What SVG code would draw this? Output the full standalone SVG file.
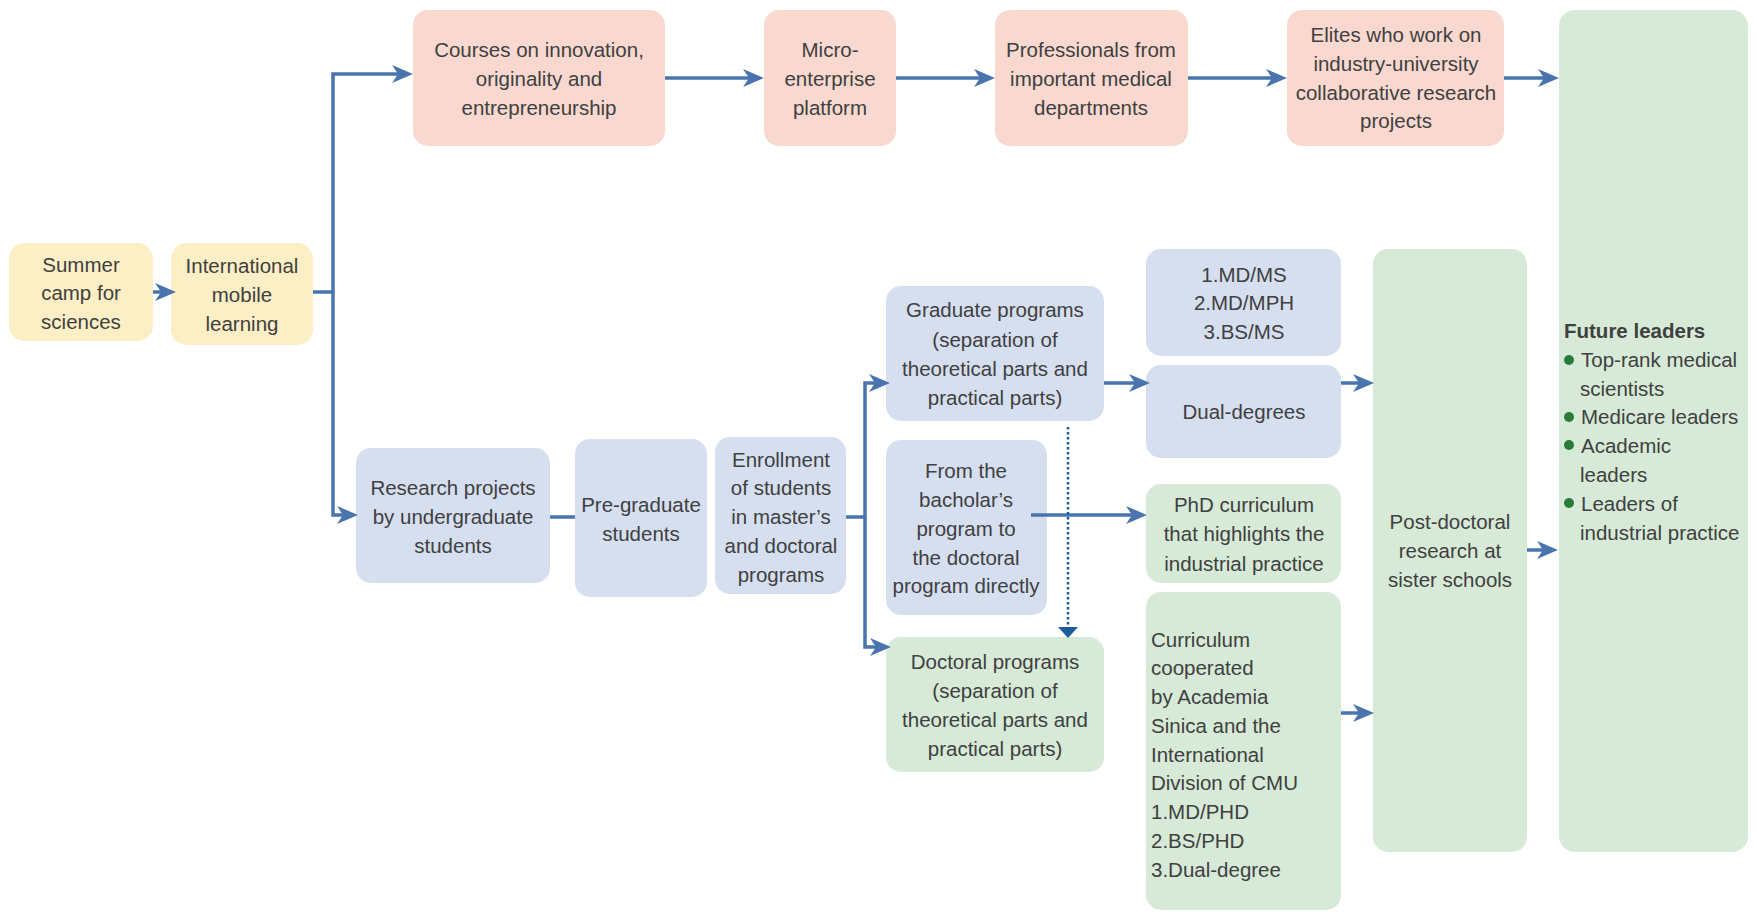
<svg xmlns="http://www.w3.org/2000/svg" width="1757" height="912" viewBox="0 0 1757 912">
<style>
.t{font-family:"Liberation Sans",Arial,sans-serif;font-size:20.5px;fill:#404040;text-anchor:middle}
.l{text-anchor:start}
.b{font-weight:bold}
.y{fill:#fcefc6}
.p{fill:#f9d9cf}
.u{fill:#d5dff0}
.g{fill:#d6ead7}
.c{fill:none;stroke:#4a74ae;stroke-width:3.5}
.d{fill:none;stroke:#1b5d99;stroke-width:2.5;stroke-dasharray:2.5 2.5}
</style>
<defs>
<marker id="ah" viewBox="0 0 21 18" refX="6" refY="9" markerWidth="21" markerHeight="18" markerUnits="userSpaceOnUse" orient="auto">
<path d="M0,0 L21,9 L0,18 L6,9 Z" fill="#4a74ae"/>
</marker>
</defs>
<g id="summer"><rect class="y" x="9" y="243" width="144" height="98" rx="15"/>
<text class="t" x="81"><tspan y="272">Summer</tspan><tspan x="81" y="300">camp for</tspan><tspan x="81" y="329">sciences</tspan></text></g>
<g id="international"><rect class="y" x="171" y="243" width="142" height="102" rx="15"/>
<text class="t" x="242"><tspan y="273">International</tspan><tspan x="242" y="302">mobile</tspan><tspan x="242" y="331">learning</tspan></text></g>
<g id="courses"><rect class="p" x="413" y="10" width="252" height="136" rx="15"/>
<text class="t" x="539"><tspan y="57">Courses on innovation,</tspan><tspan x="539" y="86">originality and</tspan><tspan x="539" y="115">entrepreneurship</tspan></text></g>
<g id="micro"><rect class="p" x="764" y="10" width="132" height="136" rx="15"/>
<text class="t" x="830"><tspan y="57">Micro-</tspan><tspan x="830" y="86">enterprise</tspan><tspan x="830" y="115">platform</tspan></text></g>
<g id="professionals"><rect class="p" x="995" y="10" width="193" height="136" rx="15"/>
<text class="t" x="1091"><tspan y="57">Professionals from</tspan><tspan x="1091" y="86">important medical</tspan><tspan x="1091" y="115">departments</tspan></text></g>
<g id="elites"><rect class="p" x="1287" y="10" width="217" height="136" rx="15"/>
<text class="t" x="1396"><tspan y="42">Elites who work on</tspan><tspan x="1396" y="71">industry-university</tspan><tspan x="1396" y="100">collaborative research</tspan><tspan x="1396" y="128">projects</tspan></text></g>
<g id="future"><rect class="g" x="1559" y="10" width="189" height="842" rx="16"/>
<text class="t l b" x="1564" y="338">Future leaders</text>
<circle cx="1569" cy="360" r="5" fill="#2a7a3a"/>
<circle cx="1569" cy="417" r="5" fill="#2a7a3a"/>
<circle cx="1569" cy="445" r="5" fill="#2a7a3a"/>
<circle cx="1569" cy="503" r="5" fill="#2a7a3a"/>
<text class="t l"><tspan x="1581" y="367">Top-rank medical</tspan><tspan x="1580" y="396">scientists</tspan><tspan x="1581" y="424">Medicare leaders</tspan><tspan x="1581" y="453">Academic</tspan><tspan x="1580" y="482">leaders</tspan><tspan x="1581" y="511">Leaders of</tspan><tspan x="1580" y="540">industrial practice</tspan></text></g>
<g id="research"><rect class="u" x="356" y="448" width="194" height="135" rx="15"/>
<text class="t" x="453"><tspan y="495">Research projects</tspan><tspan x="453" y="524">by undergraduate</tspan><tspan x="453" y="553">students</tspan></text></g>
<g id="pregraduate"><rect class="u" x="575" y="439" width="132" height="158" rx="15"/>
<text class="t" x="641"><tspan y="512">Pre-graduate</tspan><tspan x="641" y="541">students</tspan></text></g>
<g id="enrollment"><rect class="u" x="715" y="437" width="131" height="157" rx="15"/>
<text class="t" x="781"><tspan y="467">Enrollment</tspan><tspan x="781" y="495">of students</tspan><tspan x="781" y="524">in master’s</tspan><tspan x="781" y="553">and doctoral</tspan><tspan x="781" y="582">programs</tspan></text></g>
<g id="graduate"><rect class="u" x="886" y="286" width="218" height="135" rx="15"/>
<text class="t" x="995"><tspan y="317">Graduate programs</tspan><tspan x="995" y="347">(separation of</tspan><tspan x="995" y="376">theoretical parts and</tspan><tspan x="995" y="405">practical parts)</tspan></text></g>
<g id="bachelor"><rect class="u" x="886" y="440" width="161" height="175" rx="15"/>
<text class="t" x="966"><tspan y="478">From the</tspan><tspan x="966" y="507">bacholar’s</tspan><tspan x="966" y="536">program to</tspan><tspan x="966" y="565">the doctoral</tspan><tspan x="966" y="593">program directly</tspan></text></g>
<g id="doctoral"><rect class="g" x="886" y="637" width="218" height="135" rx="15"/>
<text class="t" x="995"><tspan y="669">Doctoral programs</tspan><tspan x="995" y="698">(separation of</tspan><tspan x="995" y="727">theoretical parts and</tspan><tspan x="995" y="756">practical parts)</tspan></text></g>
<g id="mdms"><rect class="u" x="1146" y="249" width="195" height="107" rx="15"/>
<text class="t" x="1244"><tspan y="282">1.MD/MS</tspan><tspan x="1244" y="310">2.MD/MPH</tspan><tspan x="1244" y="339">3.BS/MS</tspan></text></g>
<g id="dual"><rect class="u" x="1146" y="365" width="195" height="93" rx="15"/>
<text class="t" x="1244" y="419">Dual-degrees</text></g>
<g id="phd"><rect class="g" x="1146" y="484" width="195" height="99" rx="15"/>
<text class="t" x="1244"><tspan y="512">PhD curriculum</tspan><tspan x="1244" y="541">that highlights the</tspan><tspan x="1244" y="571">industrial practice</tspan></text></g>
<g id="curriculum"><rect class="g" x="1146" y="592" width="195" height="318" rx="15"/>
<text class="t l"><tspan x="1151" y="647">Curriculum</tspan><tspan x="1151" y="675">cooperated</tspan><tspan x="1151" y="704">by Academia</tspan><tspan x="1151" y="733">Sinica and the</tspan><tspan x="1151" y="762">International</tspan><tspan x="1151" y="790">Division of CMU</tspan><tspan x="1151" y="819">1.MD/PHD</tspan><tspan x="1151" y="848">2.BS/PHD</tspan><tspan x="1151" y="877">3.Dual-degree</tspan></text></g>
<g id="postdoc"><rect class="g" x="1373" y="249" width="154" height="603" rx="15"/>
<text class="t" x="1450"><tspan y="529">Post-doctoral</tspan><tspan x="1450" y="558">research at</tspan><tspan x="1450" y="587">sister schools</tspan></text></g>
<g id="connectors">
<path class="c" d="M153,292 H161" marker-end="url(#ah)"/>
<path class="c" d="M313,292 H333 V74 H398" marker-end="url(#ah)"/>
<path class="c" d="M333,292 V515 H343" marker-end="url(#ah)"/>
<path class="c" d="M665,78 H749" marker-end="url(#ah)"/>
<path class="c" d="M896,78 H980" marker-end="url(#ah)"/>
<path class="c" d="M1188,78 H1272" marker-end="url(#ah)"/>
<path class="c" d="M1504,78 H1544" marker-end="url(#ah)"/>
<path class="c" d="M550,517 H575"/>
<path class="c" d="M846,517 H865 V383 H875" marker-end="url(#ah)"/>
<path class="c" d="M865,517 V647 H876" marker-end="url(#ah)"/>
<path class="c" d="M1104,383 H1135" marker-end="url(#ah)"/>
<path class="c" d="M1031,515 H1132" marker-end="url(#ah)"/>
<path class="c" d="M1341,383 H1359" marker-end="url(#ah)"/>
<path class="c" d="M1341,713 H1359" marker-end="url(#ah)"/>
<path class="c" d="M1527,550 H1543" marker-end="url(#ah)"/>
<path class="d" d="M1068,427 V627"/>
<path d="M1058,627 H1078 L1068,638 Z" fill="#1b5d99"/>
</g>
</svg>
